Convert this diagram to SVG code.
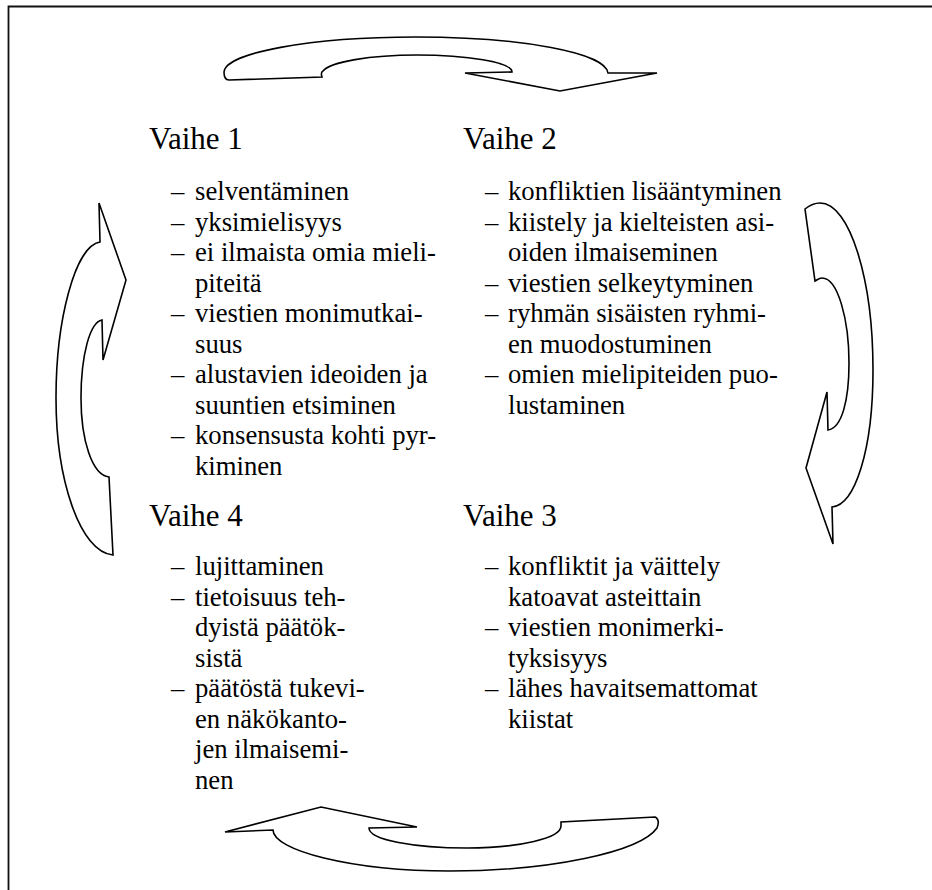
<svg xmlns="http://www.w3.org/2000/svg" width="932" height="890" viewBox="0 0 932 890">
<style>
text{font-family:"Liberation Serif",Tinos,"Times New Roman",Times,"DejaVu Serif",serif;fill:#000}
.h{font-size:31px}
.t{font-size:26.7px}
.arrow{fill:#fff;stroke:#000;stroke-width:1.6;stroke-linejoin:miter}
.frame{stroke:#111;stroke-width:1.8;fill:none}
</style>
<rect width="932" height="890" fill="#fff"/>
<g id="frame">
<path class="frame" d="M8.5 890 V6.5 H932"/>
</g>
<g id="connectors">
<path id="arrow-top" class="arrow" d="M229 80 L322 77 C321 74,321 72,323 71 C330 62,370 55,417 55 C466 55,512 62,512 72 L465 73 L560 91 L657 73 L608 73 C606 53,522 37,416 37 C310 37,225 53,224 72 C224 77,226 80,229 80 Z"/>
<path id="arrow-right" class="arrow" d="M805 209 C810 205,815 203,820 203 C850 203,873 280,873 370 C873 450,855 505,832 507 L833 544 L806 468 L827 392 L828 430 C842 428,849 400,849 363 C849 320,838 278,822 278 C819 278,817 280,815 281 Z"/>
<path id="arrow-bottom" class="arrow" d="M225 832 L321 807 L417 827 L369 828 C369 840,415 848,467 848 C520 848,561 838,561 826 L561 822 L655 817 C659 819,659 823,657 828 C640 852,550 871,450 871 C350 871,273 850,273 830 Z"/>
<path id="arrow-left" class="arrow" d="M99 203 L100 242 C75 246,56 320,56 398 C56 480,80 552,113 555 L109 477 C92 475,81 440,81 398 C81 355,90 322,102 320 L103 360 L126 280 Z"/>
</g>
<g id="vaihe1">
<text class="h" x="149" y="149">Vaihe 1</text>
<text class="t" x="171" y="200">–</text><text class="t" x="195" y="200">selventäminen</text>
<text class="t" x="171" y="230.5">–</text><text class="t" x="195" y="230.5">yksimielisyys</text>
<text class="t" x="171" y="261">–</text><text class="t" x="195" y="261">ei ilmaista omia mieli-</text>
<text class="t" x="195" y="291.5">piteitä</text>
<text class="t" x="171" y="322">–</text><text class="t" x="195" y="322">viestien monimutkai-</text>
<text class="t" x="195" y="352.5">suus</text>
<text class="t" x="171" y="383">–</text><text class="t" x="195" y="383">alustavien ideoiden ja</text>
<text class="t" x="195" y="413.5">suuntien etsiminen</text>
<text class="t" x="171" y="444">–</text><text class="t" x="195" y="444">konsensusta kohti pyr-</text>
<text class="t" x="195" y="475">kiminen</text>
</g>
<g id="vaihe2">
<text class="h" x="463" y="149">Vaihe 2</text>
<text class="t" x="485" y="200">–</text><text class="t" x="508" y="200">konfliktien lisääntyminen</text>
<text class="t" x="485" y="230.5">–</text><text class="t" x="508" y="230.5">kiistely ja kielteisten asi-</text>
<text class="t" x="508" y="261">oiden ilmaiseminen</text>
<text class="t" x="485" y="291.5">–</text><text class="t" x="508" y="291.5">viestien selkeytyminen</text>
<text class="t" x="485" y="322">–</text><text class="t" x="508" y="322">ryhmän sisäisten ryhmi-</text>
<text class="t" x="508" y="352.5">en muodostuminen</text>
<text class="t" x="485" y="383">–</text><text class="t" x="508" y="383">omien mielipiteiden puo-</text>
<text class="t" x="508" y="413.5">lustaminen</text>
</g>
<g id="vaihe4">
<text class="h" x="149" y="526">Vaihe 4</text>
<text class="t" x="171" y="575">–</text><text class="t" x="195" y="575">lujittaminen</text>
<text class="t" x="171" y="605.5">–</text><text class="t" x="195" y="605.5">tietoisuus teh-</text>
<text class="t" x="195" y="636">dyistä päätök-</text>
<text class="t" x="195" y="666.5">sistä</text>
<text class="t" x="171" y="697">–</text><text class="t" x="195" y="697">päätöstä tukevi-</text>
<text class="t" x="195" y="727.5">en näkökanto-</text>
<text class="t" x="195" y="758">jen ilmaisemi-</text>
<text class="t" x="195" y="788.5">nen</text>
</g>
<g id="vaihe3">
<text class="h" x="463" y="526">Vaihe 3</text>
<text class="t" x="485" y="575">–</text><text class="t" x="508" y="575">konfliktit ja väittely</text>
<text class="t" x="508" y="605.5">katoavat asteittain</text>
<text class="t" x="485" y="636">–</text><text class="t" x="508" y="636">viestien monimerki-</text>
<text class="t" x="508" y="666.5">tyksisyys</text>
<text class="t" x="485" y="697">–</text><text class="t" x="508" y="697">lähes havaitsemattomat</text>
<text class="t" x="508" y="727.5">kiistat</text>
</g>
</svg>
